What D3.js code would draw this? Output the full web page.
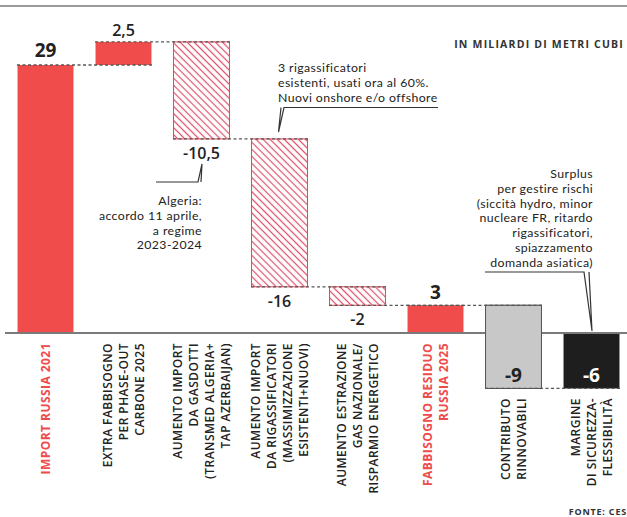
<!DOCTYPE html>
<html>
<head>
<meta charset="utf-8">
<script src="https://cdn.jsdelivr.net/npm/d3@7"></script>
<style>
  body { margin: 0; background: #fff; }
  svg { display: block; font-family: "Open Sans", "Noto Sans", sans-serif; }
</style>
</head>
<body>
<svg></svg>
<script>
// categories (lines split by "|"), values and printed labels
const categories = [
    "IMPORT RUSSIA 2021",
    "EXTRA FABBISOGNO|PER PHASE-OUT|CARBONE 2025",
    "AUMENTO IMPORT|DA GASDOTTI|(TRANSMED ALGERIA+|TAP AZERBAIJAN)",
    "AUMENTO IMPORT|DA RIGASSIFICATORI|(MASSIMIZZAZIONE|ESISTENTI+NUOVI)",
    "AUMENTO ESTRAZIONE|GAS NAZIONALE/|RISPARMIO ENERGETICO",
    "FABBISOGNO RESIDUO|RUSSIA 2025",
    "CONTRIBUTO|RINNOVABILI",
    "MARGINE|DI SICUREZZA-|FLESSIBILITÀ"
];
const values = [29, 2.5, -10.5, -16, -2, 3, -9, -6];
const valueLabels = ["29", "2,5", "-10,5", "-16", "-2", "3", "-9", "-6"];
// total = from zero, delta = from running total, margin = closes back to zero
const kinds = ["total", "delta", "delta", "delta", "delta", "total", "delta", "margin"];

const unitNote = "IN MILIARDI DI METRI CUBI";
const source = "FONTE: CES";
const noteRigas = ["3 rigassificatori", "esistenti, usati ora al 60%.", "Nuovi onshore e/o offshore"];
const noteAlgeria = ["Algeria:", "accordo 11 aprile,", "a regime", "2023-2024"];
const noteSurplus = ["Surplus", "per gestire rischi", "(siccità hydro, minor", "nucleare FR, ritardo",
    "rigassificatori,", "spiazzamento", "domanda asiatica)"];

const width = 627, height = 517;
const red = "#f04c4c";

const svg = d3.select("svg").attr("width", width).attr("height", height);

// running totals -> [start, end] for each bar
let run = 0;
const bars = values.map((v, i) => {
    let s, e;
    if (kinds[i] === "total") { s = 0; e = v; run = v; }
    else if (kinds[i] === "delta") { s = run; e = run + v; run = e; }
    else { s = run; e = 0; run = 0; }
    return { cat: categories[i], lines: categories[i].split("|"), v, label: valueLabels[i], s, e, i };
});

const x = d3.scaleBand()
    .domain(categories)
    .range([6.5, 630.5])
    .paddingInner(0.27)
    .paddingOuter(0.135);

const y = d3.scaleLinear().domain([0, 29]).range([333, 65]);

const defs = svg.append("defs");
const hatch = defs.append("pattern")
    .attr("id", "hatch")
    .attr("patternUnits", "userSpaceOnUse")
    .attr("width", 5).attr("height", 5)
    .attr("patternTransform", "rotate(-45)");
hatch.append("rect").attr("width", 5).attr("height", 5).attr("fill", "#fff");
hatch.append("line")
    .attr("x1", 2.5).attr("x2", 2.5).attr("y1", 0).attr("y2", 5)
    .attr("stroke", "#e0506a").attr("stroke-width", 1.2);

// top rule
svg.append("line")
    .attr("x1", 0).attr("x2", width).attr("y1", 6).attr("y2", 6)
    .attr("stroke", "#9a9a9a").attr("stroke-width", 2);

const fillOf = i => {
    if (i === 2 || i === 3 || i === 4) return "url(#hatch)";
    if (i === 6) return "#c8c8c8";
    if (i === 7) return "#1e1e1e";
    return red;
};
const strokeOf = i => {
    if (i === 2 || i === 3 || i === 4) return "#e0485a";
    if (i === 6) return "#555";
    return "none";
};

svg.append("g").selectAll("rect")
    .data(bars)
    .join("rect")
    .attr("x", d => x(d.cat) + 0.5)
    .attr("width", x.bandwidth() - 1)
    .attr("y", d => y(Math.max(d.s, d.e)))
    .attr("height", d => Math.abs(y(d.s) - y(d.e)))
    .attr("fill", d => fillOf(d.i))
    .attr("stroke", d => strokeOf(d.i))
    .attr("stroke-width", 1);

// baseline
svg.append("line")
    .attr("x1", 5).attr("x2", width).attr("y1", y(0)).attr("y2", y(0))
    .attr("stroke", "#7a7a7a").attr("stroke-width", 2);

// redraw grey bar over baseline
const grey = bars[6];
svg.append("rect")
    .attr("x", x(grey.cat) + 0.5).attr("width", x.bandwidth() - 1)
    .attr("y", y(grey.s)).attr("height", y(grey.e) - y(grey.s))
    .attr("fill", "#c8c8c8").attr("stroke", "#555").attr("stroke-width", 1);

// dashed connectors
svg.append("g").selectAll("line")
    .data(bars.slice(0, -1))
    .join("line")
    .attr("x1", d => x(d.cat))
    .attr("x2", d => x(categories[d.i + 1]) + x.bandwidth())
    .attr("y1", d => y(d.e)).attr("y2", d => y(d.e))
    .attr("stroke", "#555").attr("stroke-width", 1.3)
    .attr("stroke-dasharray", "3,2.5");

// value labels
svg.append("g").selectAll("text")
    .data(bars)
    .join("text")
    .attr("x", d => x(d.cat) + x.bandwidth() / 2)
    .attr("y", d => {
        if (d.i >= 6) return y(-6) - 6;
        if (d.i === 0) return y(d.e) - 8;
        if (d.v > 0) return y(d.e) - 6;
        return y(d.e) + 20;
    })
    .attr("text-anchor", "middle")
    .attr("font-size", d => (d.i === 0 || d.i === 5 || d.i >= 6) ? 19 : 16)
    .attr("font-weight", d => (d.i === 0 || d.i === 5 || d.i >= 6) ? 700 : 600)
    .attr("fill", d => d.i === 7 ? "#fff" : "#222")
    .text(d => d.label);

// category labels, rotated
const catG = svg.append("g");
bars.forEach(d => {
    const cx = x(d.cat) + x.bandwidth() / 2;
    const top = d.i >= 6 ? 398 : 343;
    const n = d.lines.length;
    d.lines.forEach((ln, j) => {
        const lx = cx + (j - (n - 1) / 2) * 15.8;
        catG.append("text")
            .attr("transform", `translate(${lx},${top}) rotate(-90)`)
            .attr("dy", "0.36em")
            .attr("text-anchor", "end")
            .attr("font-size", 12)
            .attr("font-weight", (d.i === 0 || d.i === 5) ? 700 : 600)
            .attr("letter-spacing", 0.45)
            .attr("fill", (d.i === 0 || d.i === 5) ? "#ee4b4b" : "#222")
            .text(ln);
    });
});

// unit note
svg.append("text")
    .attr("x", 624).attr("y", 48)
    .attr("text-anchor", "end")
    .attr("font-size", 10.5).attr("font-weight", 700)
    .attr("letter-spacing", 1.2)
    .attr("fill", "#333")
    .text(unitNote);

// annotations, one text per line
function note(lines, xPos, y0, lh, anchor) {
    svg.append("g").selectAll("text")
        .data(lines)
        .join("text")
        .attr("x", xPos)
        .attr("y", (d, j) => y0 + j * lh)
        .attr("text-anchor", anchor)
        .attr("font-family", "Lato, 'Open Sans', sans-serif")
        .attr("font-size", 12.3)
        .attr("letter-spacing", 0.4)
        .attr("fill", "#222")
        .text(d => d);
}
note(noteRigas, 278, 72, 15, "start");
note(noteAlgeria, 202, 205, 14.8, "end");
note(noteSurplus, 593, 178, 14.8, "end");

const leader = d3.line();
svg.append("path")
    .attr("d", leader([[438, 107.5], [284, 107.5], [278.5, 132], [281, 107.5]]))
    .attr("fill", "none").attr("stroke", "#333").attr("stroke-width", 1.2);
svg.append("path")
    .attr("d", leader([[156, 182], [198, 182], [202, 164], [201, 182]]))
    .attr("fill", "none").attr("stroke", "#333").attr("stroke-width", 1.2);
svg.append("path")
    .attr("d", leader([[485, 272], [584, 272], [592, 331], [589, 272]]))
    .attr("fill", "none").attr("stroke", "#333").attr("stroke-width", 1.2);

// source
svg.append("text")
    .attr("x", 627).attr("y", 515)
    .attr("text-anchor", "end")
    .attr("font-size", 9).attr("font-weight", 700)
    .attr("letter-spacing", 0.8)
    .attr("fill", "#333")
    .text(source);
</script>
</body>
</html>
